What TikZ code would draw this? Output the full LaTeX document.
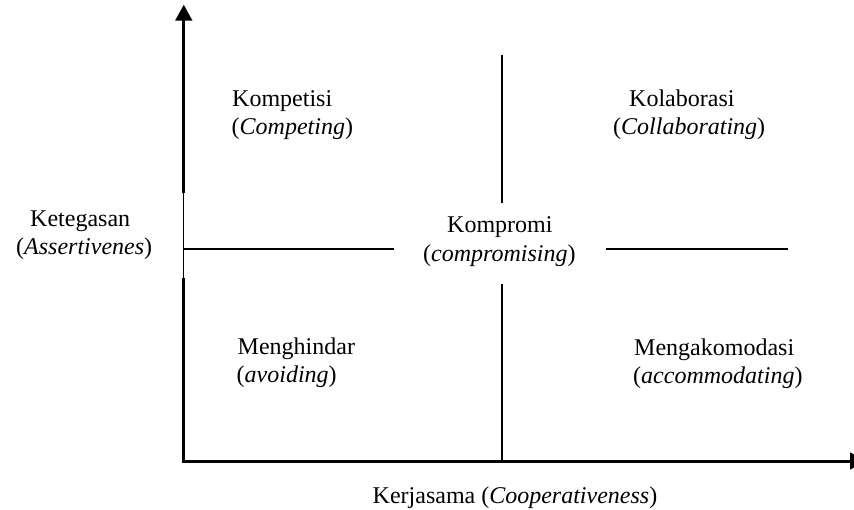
\documentclass[tikz,border=0pt]{standalone}
\usepackage{fontspec}
\setmainfont{Liberation Serif}
\usetikzlibrary{arrows.meta}
\begin{document}
\begin{tikzpicture}[x=1pt,y=-1pt,
  lbl/.style={anchor=base west,inner sep=0pt,font=\fontsize{24}{28}\selectfont},
  axisline/.style={line width=3pt},
  axisarrow/.style={line width=3pt,-{Triangle[length=16pt,width=16.6pt]}},
  gridline/.style={line width=2pt}]
\useasboundingbox (0,0) rectangle (854,509);
% axes
\coordinate (O) at (183.8,461);
\coordinate (Ox) at (182.3,461);
\coordinate (Ya) at (183.8,193);
\coordinate (Yb) at (183.8,278);
\coordinate (Ytop) at (183.8,4.7);
\coordinate (Xend) at (866,461);
\draw[axisline] (O) -- (Yb);
\draw[line width=1.3pt] (Yb) -- (Ya);
\draw[axisarrow] (Ya) -- (Ytop);
\draw[axisarrow] (Ox) -- (Xend);
% dividing lines
\coordinate (V1) at (502,55);
\coordinate (V2) at (502,203);
\coordinate (V3) at (502,284);
\coordinate (V4) at (502,462);
\coordinate (H1) at (184,249);
\coordinate (H2) at (394,249);
\coordinate (H3) at (606,249);
\coordinate (H4) at (788,249);
\draw[gridline] (V1) -- (V2);
\draw[gridline] (V3) -- (V4);
\draw[gridline] (H1) -- (H2);
\draw[gridline] (H3) -- (H4);
% labels
\node[lbl] (komp1) at (232,106.7) {Kompetisi};
\node[lbl] (komp2) at (231.5,134.3) {(\textit{Competing})};
\node[lbl] (kol1) at (629,106.7) {Kolaborasi};
\node[lbl] (kol2) at (613,134.3) {(\textit{Collaborating})};
\node[lbl] (ket1) at (30,226.3) {Ketegasan};
\node[lbl] (ket2) at (16,254.3) {(\textit{Assertivenes})};
\node[lbl] (kpr1) at (447,232.5) {Kompromi};
\node[lbl] (kpr2) at (423,261) {(\textit{compromising})};
\node[lbl] (men1) at (237.5,354.3) {Menghindar};
\node[lbl] (men2) at (236.5,382.7) {(\textit{avoiding})};
\node[lbl] (mak1) at (634,355) {Mengakomodasi};
\node[lbl] (mak2) at (633,383) {(\textit{accommodating})};
\node[lbl] (ker) at (372.5,503) {Kerjasama (\textit{Cooperativeness})};
\end{tikzpicture}
\end{document}
